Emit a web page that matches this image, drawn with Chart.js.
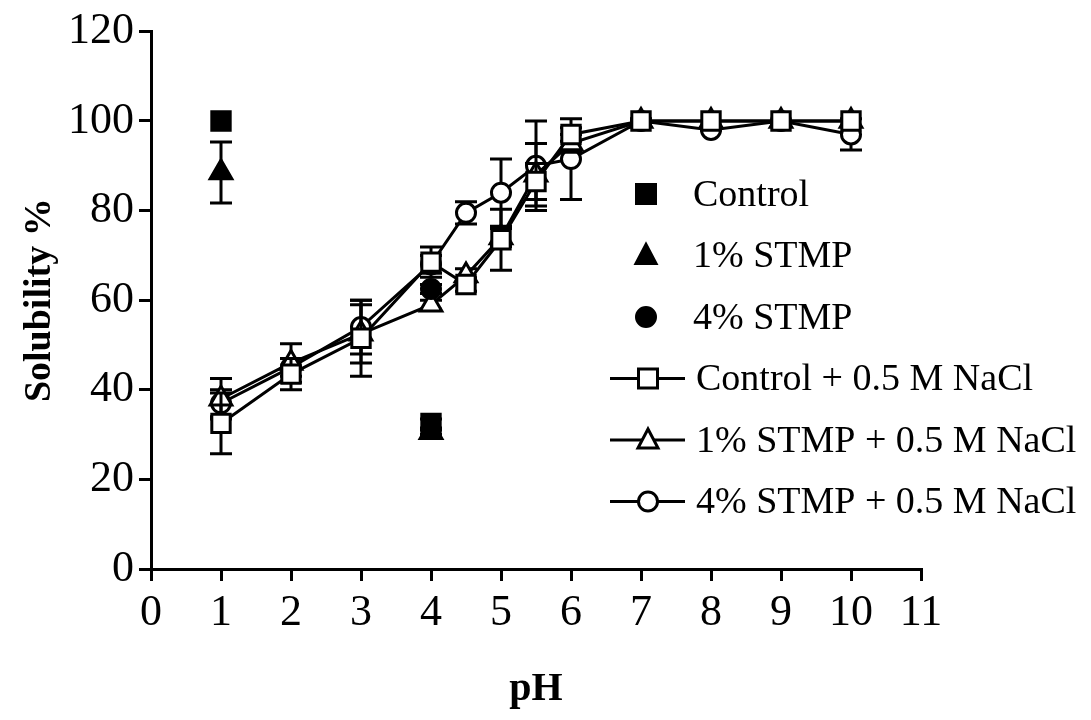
<!DOCTYPE html>
<html lang="en">
<head>
<meta charset="UTF-8">
<title>Solubility vs pH</title>
<script src="https://cdn.jsdelivr.net/npm/chart.js@4.4.1/dist/chart.umd.min.js"></script>
<style>
  html, body { margin: 0; padding: 0; background: #fff; }
  #wrap { width: 1091px; height: 720px; }
</style>
</head>
<body>
<div id="wrap"><canvas id="myChart"></canvas></div>
<script>
// salt series were measured over the whole pH range
const phLevels = [1, 2, 3, 4, 4.5, 5, 5.5, 6, 7, 8, 9, 10];
const controlNaCl    = [32.5, 43.5, 51.5, 68.5, 63.5, 73.5, 86.5, 97, 100, 100, 100, 100];
const controlNaClErr = [6.8, 3.5, 8.5, 3.4, 1.5, 6.8, 4, 1.5, 0.5, 0, 0, 0];
const stmp1NaCl      = [38, 46, 52.5, 59, 65.5, 74, 88, 95, 100, 100, 100, 100];
const stmp1NaClErr   = [4.5, 4.3, 6.5, 1, 1.5, 2, 7, 2, 0, 0, 0, 0];
const stmp4NaCl      = [37, 45, 54, 68, 79.5, 84, 90, 91.5, 100, 98, 100, 97];
const stmp4NaClErr   = [3, 2, 6, 2, 2.5, 7.5, 10, 9, 0, 0, 0, 3.5];

// without salt only pH 1 and 4
const phNoSalt   = [1, 4];
const control    = [100, 32.5];
const controlErr = [0, 1];
const stmp1      = [88.5, 30.5];
const stmp1Err   = [6.8, 0.5];
const stmp4      = [null, 62.5];
const stmp4Err   = [0, 1];

const xTicks = [0, 1, 2, 3, 4, 5, 6, 7, 8, 9, 10, 11];
const yTicks = [0, 20, 40, 60, 80, 100, 120];

const seriesNames = ['Control', '1% STMP', '4% STMP',
  'Control + 0.5 M NaCl', '1% STMP + 0.5 M NaCl', '4% STMP + 0.5 M NaCl'];

const serif = 'Liberation Serif, Times New Roman, serif';

function toPoints(xs, ys) {
  return xs.map((x, i) => ({ x: x, y: ys[i] }));
}

// error bars, drawn just before each dataset's own markers
const errorBars = {
  id: 'errorBars',
  beforeDatasetDraw(chart, args) {
    const ds = chart.data.datasets[args.index];
    if (!ds.errors) return;
    const ctx = chart.ctx;
    const xs = chart.scales.x, ys = chart.scales.y;
    ctx.save();
    ctx.strokeStyle = '#000';
    ctx.lineWidth = 3;
    ds.data.forEach((p, i) => {
      const e = ds.errors[i];
      if (p.y == null || !e) return;
      const px = xs.getPixelForValue(p.x);
      const top = ys.getPixelForValue(p.y + e);
      const bot = ys.getPixelForValue(p.y - e);
      ctx.beginPath();
      ctx.moveTo(px, top); ctx.lineTo(px, bot);
      ctx.moveTo(px - 11, top); ctx.lineTo(px + 11, top);
      ctx.moveTo(px - 11, bot); ctx.lineTo(px + 11, bot);
      ctx.stroke();
    });
    ctx.restore();
  }
};

function drawMarker(ctx, style, x, y, filled) {
  ctx.beginPath();
  if (style === 'rect') {
    ctx.rect(x - 9.5, y - 9.5, 19, 19);
  } else if (style === 'triangle') {
    ctx.moveTo(x, y - 11);
    ctx.lineTo(x + 10, y + 8);
    ctx.lineTo(x - 10, y + 8);
    ctx.closePath();
  } else {
    ctx.arc(x, y, 9.5, 0, Math.PI * 2);
  }
  ctx.fillStyle = filled ? '#000' : '#fff';
  ctx.fill();
  ctx.stroke();
}

// legend sits inside the plot on the right
const sideLegend = {
  id: 'sideLegend',
  afterDraw(chart) {
    const ctx = chart.ctx;
    const styles = ['rect', 'triangle', 'circle', 'rect', 'triangle', 'circle'];
    ctx.save();
    ctx.strokeStyle = '#000';
    ctx.lineWidth = 3;
    ctx.font = '38px ' + serif;
    ctx.fillStyle = '#000';
    ctx.textBaseline = 'middle';
    seriesNames.forEach((name, i) => {
      const y = 194 + i * 61.5;
      if (i < 3) {
        drawMarker(ctx, styles[i], 646, y, true);
        ctx.fillStyle = '#000';
        ctx.fillText(name, 693, y + 2);
      } else {
        ctx.beginPath();
        ctx.moveTo(610, y); ctx.lineTo(685, y);
        ctx.stroke();
        drawMarker(ctx, styles[i], 648, y, false);
        ctx.fillStyle = '#000';
        ctx.fillText(name, 696, y + 2);
      }
    });
    ctx.restore();
  }
};

function solidSet(label, ys, errs, style, radius, order) {
  return {
    label: label,
    data: toPoints(phNoSalt, ys),
    errors: errs,
    showLine: false,
    pointStyle: style,
    pointRadius: radius,
    pointBackgroundColor: '#000',
    pointBorderColor: '#000',
    pointBorderWidth: 3,
    order: order
  };
}

function openSet(label, ys, errs, style, radius, order) {
  return {
    label: label,
    data: toPoints(phLevels, ys),
    errors: errs,
    showLine: true,
    borderColor: '#000',
    borderWidth: 3,
    tension: 0,
    pointStyle: style,
    pointRadius: radius,
    pointBackgroundColor: '#fff',
    pointBorderColor: '#000',
    pointBorderWidth: 3,
    order: order
  };
}

const tickFont = { family: serif, size: 44 };

new Chart(document.getElementById('myChart'), {
  type: 'line',
  data: {
    datasets: [
      openSet(seriesNames[3], controlNaCl, controlNaClErr, 'rect', 13, 1),
      solidSet(seriesNames[0], control, controlErr, 'rect', 13, 2),
      solidSet(seriesNames[2], stmp4, stmp4Err, 'circle', 9.5, 3),
      solidSet(seriesNames[1], stmp1, stmp1Err, 'triangle', 12.5, 4),
      openSet(seriesNames[4], stmp1NaCl, stmp1NaClErr, 'triangle', 12.5, 5),
      openSet(seriesNames[5], stmp4NaCl, stmp4NaClErr, 'circle', 9.5, 6)
    ]
  },
  options: {
    responsive: true,
    maintainAspectRatio: false,
    animation: false,
    events: [],
    layout: { padding: { top: 28, right: 170, left: 0, bottom: 0 } },
    plugins: { legend: { display: false }, tooltip: { enabled: false } },
    scales: {
      x: {
        type: 'linear',
        min: 0,
        max: 11,
        afterBuildTicks: s => { s.ticks = xTicks.map(v => ({ value: v })); },
        afterFit: s => { s.height = 151; },
        ticks: { font: tickFont, color: '#000', padding: 6, maxRotation: 0, autoSkip: false },
        grid: { drawOnChartArea: false, drawTicks: true, tickLength: 12, color: '#000', lineWidth: 3 },
        border: { color: '#000', width: 3 },
        title: { display: true, text: 'pH', color: '#000',
                 font: { family: serif, size: 40, weight: 'bold' }, padding: { top: 0, bottom: 6 } }
      },
      y: {
        min: 0,
        max: 120,
        afterBuildTicks: s => { s.ticks = yTicks.map(v => ({ value: v })); },
        afterFit: s => { s.width = 151; },
        ticks: { font: tickFont, color: '#000', padding: 5 },
        grid: { drawOnChartArea: false, drawTicks: true, tickLength: 12, color: '#000', lineWidth: 3 },
        border: { color: '#000', width: 3 },
        title: { display: true, text: 'Solubility %', color: '#000',
                 font: { family: serif, size: 38, weight: 'bold' }, padding: { top: 17, bottom: 0 } }
      }
    }
  },
  plugins: [errorBars, sideLegend]
});
</script>
</body>
</html>
